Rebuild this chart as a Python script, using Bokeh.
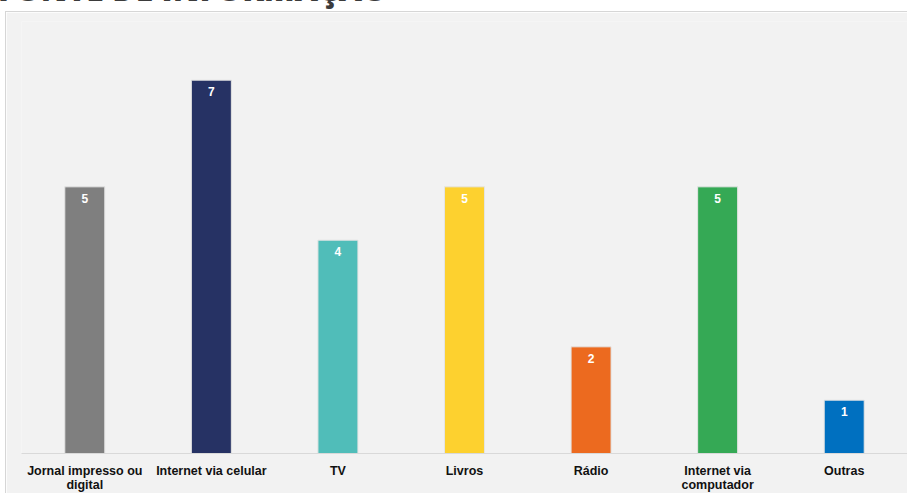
from bokeh.plotting import figure
from bokeh.models import ColumnDataSource, Div, Range1d, Spacer
from bokeh.layouts import column, row
from bokeh.embed import file_html
from bokeh.resources import INLINE
from bokeh.core.properties import value

categories = ["Jornal impresso ou\ndigital", "Internet via celular", "TV", "Livros",
              "Rádio", "Internet via\ncomputador", "Outras"]
counts = [5, 7, 4, 5, 2, 5, 1]
colors = ["#7f7f7f", "#263264", "#50bdb9", "#fdd12f", "#ec6a1f", "#35a955", "#0070c0"]
title_text = "FONTE DE INFORMAÇÃO"

src = ColumnDataSource(dict(cat=categories, val=counts, color=colors,
                            lab=[str(v) for v in counts]))

p = figure(x_range=categories, y_range=Range1d(0, 8.1), width=902, height=482,
           output_backend="svg", toolbar_location=None,
           background_fill_color="#f2f2f2", border_fill_color="#f2f2f2",
           min_border_top=9, min_border_bottom=39, min_border_left=15, min_border_right=1,
           styles={"border-top": "1px solid #d6d6d6", "border-left": "1px solid #d6d6d6"})
p.outline_line_color = None
p.vbar(x="cat", top="val", width=0.316, color="color", line_color="#e4e4e4",
       line_width=1, source=src)
p.text(x="cat", y="val", text="lab", source=src, text_color="white",
       text_font=value("Liberation Sans"), text_font_style="bold", text_font_size="12px",
       text_align="center", text_baseline="top", y_offset=7)
p.yaxis.visible = False
p.xgrid.visible = False
p.ygrid.visible = False
p.xaxis.axis_line_color = "#d9d9d9"
p.xaxis.axis_line_width = 1
p.xaxis.major_tick_line_color = None
p.xaxis.minor_tick_line_color = None
p.xaxis.major_tick_out = 0
p.xaxis.major_tick_in = 0
p.xaxis.major_label_text_font = "Liberation Sans"
p.xaxis.major_label_text_font_style = "bold"
p.xaxis.major_label_text_font_size = "12.5px"
p.xaxis.major_label_text_color = "#111111"
p.xaxis.major_label_standoff = 10
p.xaxis.major_label_text_line_height = 1.0

title = Div(text='<div style="position:relative; top:-34px; left:-2px; font-family:\'Open Sans\'; '
                 'font-weight:800; font-size:32px; color:#3b3b3b; white-space:nowrap">'
                 + title_text + '</div>',
            width=600, height=11, margin=0, styles={"overflow": "visible"})

layout = column(title, row(Spacer(width=5, height=482, margin=0), p, spacing=0), spacing=0)
open("out.html", "w").write(file_html(layout, INLINE))
